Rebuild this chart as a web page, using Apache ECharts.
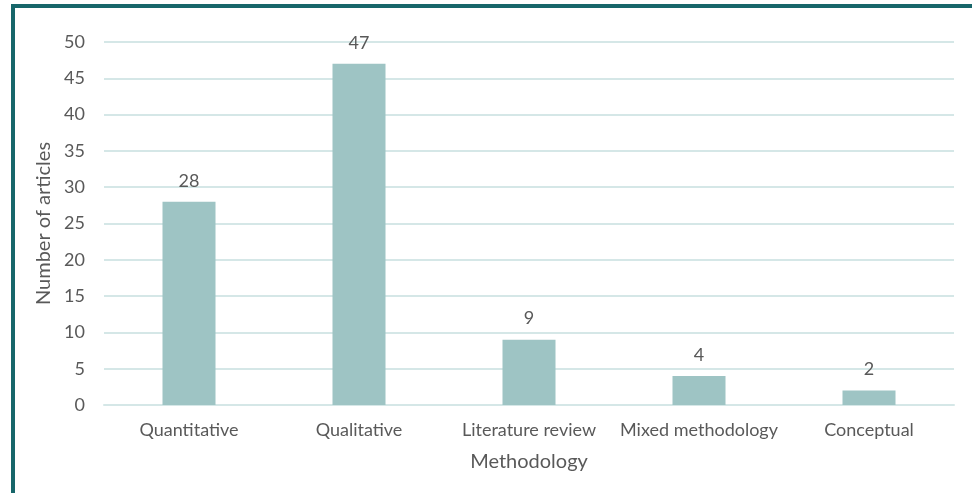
<!DOCTYPE html>
<html><head><meta charset="utf-8">
<script src="https://cdn.jsdelivr.net/npm/echarts@6/dist/echarts.min.js"></script>
<style>
html,body{margin:0;padding:0;background:#fff;width:972px;height:493px;overflow:hidden}
#frame{position:absolute;left:11px;top:4px;right:0;bottom:0;border-top:4px solid #17666a;border-left:4px solid #17666a}
#chart{position:absolute;left:0;top:0;width:972px;height:493px}
</style></head>
<body>
<div id="frame"></div>
<div id="chart"></div>
<script>
const categories = ["Quantitative","Qualitative","Literature review","Mixed methodology","Conceptual"];
const articles = [28,47,9,4,2];
const yTicks = [0,5,10,15,20,25,30,35,40,45,50];

const chart = echarts.init(document.getElementById('chart'));
const font = 'Lato, "Open Sans", sans-serif';
chart.setOption({
  animation:false,
  grid:{left:104,right:18,top:42,bottom:88,containLabel:false},
  xAxis:{type:'category',data:categories,
    name:'Methodology',nameLocation:'middle',nameGap:47,
    nameTextStyle:{color:'#595959',fontSize:20,fontFamily:font},
    axisLine:{lineStyle:{color:'#d5e7e7',width:2}},axisTick:{show:false},
    axisLabel:{color:'#595959',fontSize:18,fontFamily:font,margin:16,interval:0}},
  yAxis:{type:'value',min:0,max:50,interval:5,
    name:'Number of articles',nameLocation:'middle',nameGap:45,nameRotate:90,
    nameTextStyle:{color:'#595959',fontSize:20,fontFamily:font},
    axisLine:{show:false},axisTick:{show:false},
    splitLine:{lineStyle:{color:'#d5e7e7',width:2}},
    axisLabel:{color:'#595959',fontSize:18,fontFamily:font,margin:19,
      formatter:v=>yTicks.includes(v)?String(v):''}},
  series:[{type:'bar',data:articles,barWidth:53,
    itemStyle:{color:'#9ec4c4'},
    label:{show:true,position:'top',distance:12,color:'#595959',fontSize:18,fontFamily:font}}]
});
</script>
</body></html>
